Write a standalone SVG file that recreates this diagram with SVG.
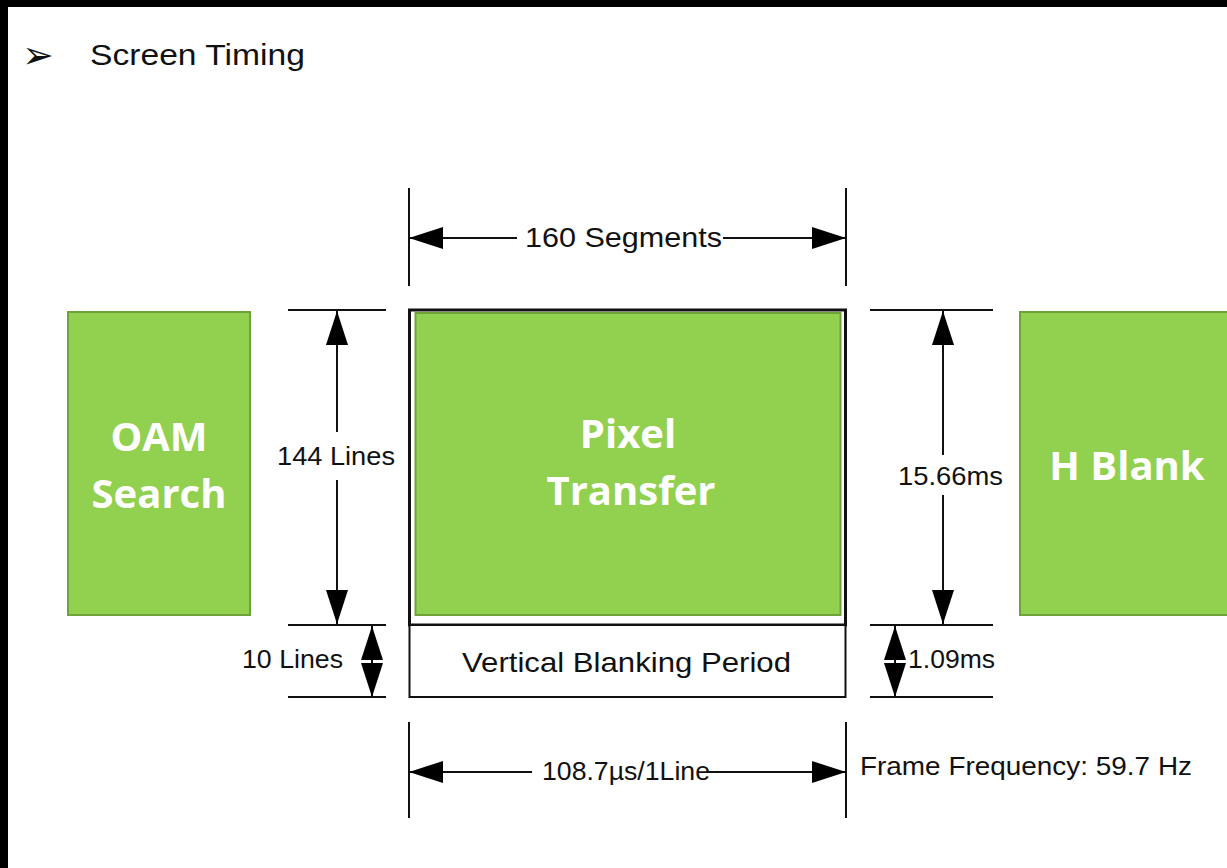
<svg xmlns="http://www.w3.org/2000/svg" width="1227" height="868" viewBox="0 0 1227 868">
  <style>
    .lbl { font-family: "Liberation Sans", Arial, sans-serif; fill: #111; }
    .box { fill: #92D050; stroke: #6FA33A; stroke-width: 2; }
    .boxtxt { font-family: "Open Sans", "DejaVu Sans", sans-serif; font-weight: bold; font-size: 40px; fill: #fff; text-anchor: middle; }
    .ext { stroke: #111; stroke-width: 2; fill: none; }
    .dim { stroke: #111; stroke-width: 2; fill: none; marker-end: url(#ah); }
    .dim2 { stroke: #111; stroke-width: 2; fill: none; marker-start: url(#ah); marker-end: url(#ah); }
  </style>
  <defs>
    <marker id="ah" markerUnits="userSpaceOnUse" markerWidth="34" markerHeight="22" refX="34" refY="11" orient="auto-start-reverse" viewBox="0 0 34 22">
      <path d="M0,0 L34,11 L0,22 z" fill="#000"/>
    </marker>
  </defs>
  <rect x="0" y="0" width="1227" height="868" fill="#fff"/>
  <rect x="0" y="0" width="1227" height="7" fill="#000"/>
  <rect x="0" y="0" width="8" height="868" fill="#000"/>

  <g id="title">
    <text x="22" y="68" style="font-family: 'DejaVu Sans', sans-serif; font-size: 38px; fill: #111;">➢</text>
    <text class="lbl" x="90" y="65" font-size="30" textLength="215" lengthAdjust="spacingAndGlyphs">Screen Timing</text>
  </g>

  <g id="oam-search">
    <rect class="box" x="68" y="312" width="182" height="303"/>
    <text class="boxtxt" x="159" y="451">OAM</text>
    <text class="boxtxt" x="159" y="508">Search</text>
  </g>

  <g id="pixel-transfer">
    <rect x="409.5" y="310" width="436" height="315" fill="#fff" stroke="#111" stroke-width="3"/>
    <rect class="box" x="415.5" y="313" width="425" height="302" stroke-width="1.5"/>
    <text class="boxtxt" x="628" y="448">Pixel</text>
    <text class="boxtxt" x="631" y="505">Transfer</text>
  </g>

  <g id="vblank">
    <rect x="409.5" y="625" width="436" height="72" fill="#fff" stroke="#111" stroke-width="2"/>
    <text class="lbl" x="462" y="672" font-size="28" textLength="329" lengthAdjust="spacingAndGlyphs">Vertical Blanking Period</text>
  </g>

  <g id="h-blank">
    <rect class="box" x="1020" y="312" width="220" height="303"/>
    <text class="boxtxt" x="1127" y="480">H Blank</text>
  </g>

  <g id="connectors">
    <!-- top dimension -->
    <line class="ext" x1="409" y1="188" x2="409" y2="286"/>
    <line class="ext" x1="846" y1="188" x2="846" y2="286"/>
    <line class="dim" x1="517" y1="238" x2="409" y2="238"/>
    <line class="dim" x1="723" y1="238" x2="846" y2="238"/>
    <!-- bottom dimension -->
    <line class="ext" x1="409" y1="722" x2="409" y2="818"/>
    <line class="ext" x1="846" y1="722" x2="846" y2="818"/>
    <line class="dim" x1="532" y1="772" x2="409" y2="772"/>
    <line class="dim" x1="708" y1="772" x2="846" y2="772"/>
    <!-- left extension lines -->
    <line class="ext" x1="288" y1="310" x2="386" y2="310"/>
    <line class="ext" x1="288" y1="625" x2="386" y2="625"/>
    <line class="ext" x1="288" y1="697" x2="386" y2="697"/>
    <!-- right extension lines -->
    <line class="ext" x1="870" y1="310" x2="993" y2="310"/>
    <line class="ext" x1="870" y1="625" x2="993" y2="625"/>
    <line class="ext" x1="870" y1="697" x2="993" y2="697"/>
    <!-- left vertical -->
    <line class="dim" x1="337" y1="432" x2="337" y2="311"/>
    <line class="dim" x1="337" y1="480" x2="337" y2="624"/>
    <line class="dim2" x1="372" y1="626" x2="372" y2="697"/>
    <!-- right vertical -->
    <line class="dim" x1="943" y1="455" x2="943" y2="311"/>
    <line class="dim" x1="943" y1="495" x2="943" y2="624"/>
    <line class="dim2" x1="895" y1="626" x2="895" y2="697"/>
  </g>

  <g id="labels">
    <text class="lbl" x="525" y="247" font-size="28" textLength="197" lengthAdjust="spacingAndGlyphs">160 Segments</text>
    <text class="lbl" x="277" y="465" font-size="25" textLength="118" lengthAdjust="spacingAndGlyphs">144 Lines</text>
    <text class="lbl" x="242" y="668" font-size="25" textLength="101" lengthAdjust="spacingAndGlyphs">10 Lines</text>
    <text class="lbl" x="898" y="485" font-size="25" textLength="105" lengthAdjust="spacingAndGlyphs">15.66ms</text>
    <text class="lbl" x="908" y="668" font-size="25" textLength="87" lengthAdjust="spacingAndGlyphs">1.09ms</text>
    <text class="lbl" x="542" y="780" font-size="25" textLength="168" lengthAdjust="spacingAndGlyphs">108.7µs/1Line</text>
    <text class="lbl" x="860" y="775" font-size="25" textLength="332" lengthAdjust="spacingAndGlyphs">Frame Frequency: 59.7 Hz</text>
  </g>
</svg>
